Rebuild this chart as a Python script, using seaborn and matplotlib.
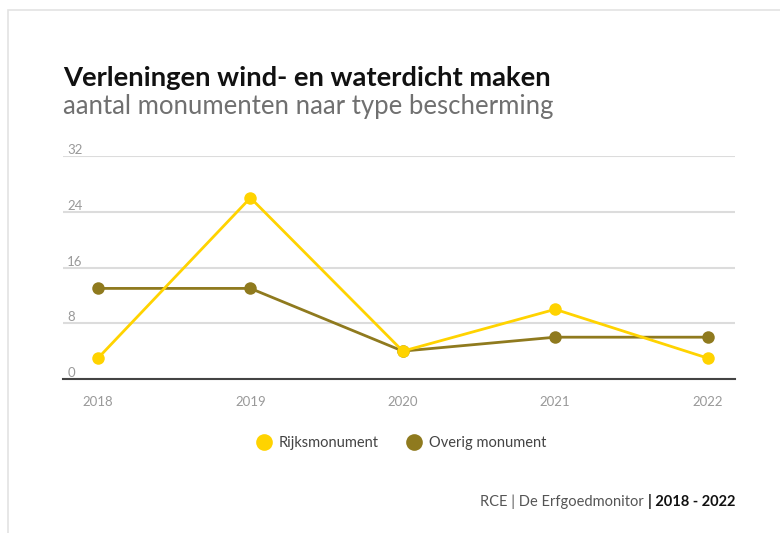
import pandas as pd
import numpy as np
import matplotlib.pyplot as plt
import seaborn as sns
from matplotlib.lines import Line2D
from matplotlib.patches import Rectangle

# Data
years = ["2018", "2019", "2020", "2021", "2022"]
rijksmonument = [3, 26, 4, 10, 3]
overig_monument = [13, 13, 4, 6, 6]
series_names = ["Rijksmonument", "Overig monument"]
colors = ["#FFD300", "#8F7A1E"]
y_ticks = [0, 8, 16, 24, 32]

df = pd.DataFrame({
    "idx": list(range(len(years))) * 2,
    "value": rijksmonument + overig_monument,
    "type": [series_names[0]] * len(years) + [series_names[1]] * len(years),
})

sns.set_style("white")
plt.rcParams["font.family"] = ["Lato", "DejaVu Sans"]

fig = plt.figure(figsize=(7.8, 5.33), dpi=100)
ax = fig.add_axes([63 / 780, 1 - 379 / 533, (735 - 63) / 780, (379 - 156) / 533])

# card border
fig.patches.append(Rectangle((8 / 780, -0.1), 1.2, 1 - 10 / 533 + 0.1, transform=fig.transFigure,
                             facecolor="none", edgecolor="#e3e3e3", linewidth=1.2))

sns.lineplot(data=df, x="idx", y="value", hue="type", hue_order=series_names,
             palette=colors, marker="o", markersize=9, markeredgewidth=0,
             linewidth=2, legend=False, ax=ax)
# yellow line on top
ax.lines[0].set_zorder(4)
ax.lines[1].set_zorder(3)

ax.set_xlim(-0.23, 4.18)
ax.set_ylim(0, 32)
ax.set_xticks(range(len(years)))
ax.set_xticklabels(years)
ax.set_yticks(y_ticks)
ax.set_yticklabels([str(t) for t in y_ticks])
ax.set_xlabel("")
ax.set_ylabel("")

ax.grid(axis="y", color="#dcdcdc", linewidth=1.5)
ax.grid(axis="x", visible=False)
for side in ["top", "right", "left"]:
    ax.spines[side].set_visible(False)
ax.spines["bottom"].set_color("#444444")
ax.spines["bottom"].set_linewidth(1.5)
ax.spines["bottom"].set_zorder(5)

ax.tick_params(axis="x", length=0, pad=12, labelsize=9.5, labelcolor="#999999")
ax.tick_params(axis="y", length=0, pad=-3, labelsize=9.5, labelcolor="#999999")
for lbl in ax.get_yticklabels():
    lbl.set_horizontalalignment("left")
    lbl.set_verticalalignment("bottom")

# Title and subtitle
fig.text(63 / 780, 1 - 86 / 533, "Verleningen wind- en waterdicht maken",
         fontsize=19.7, fontweight="bold", color="#111111", ha="left", va="baseline")
fig.text(63 / 780, 1 - 114 / 533, "aantal monumenten naar type bescherming",
         fontsize=18.5, fontweight="normal", color="#707070", ha="left", va="baseline")

# Legend
handles = [Line2D([], [], marker="o", linestyle="none", markersize=12,
                  markerfacecolor=c, markeredgewidth=0) for c in colors]
fig.legend(handles, series_names, loc="center", ncol=2, frameon=False,
           bbox_to_anchor=(398 / 780, 1 - 443 / 533), fontsize=10.5,
           handletextpad=0.05, columnspacing=1.4, labelcolor="#444444")

# Source
bold = fig.text(735 / 780, 1 - 506 / 533, "| 2018 - 2022", fontsize=10.5,
                fontweight="bold", color="#111111", ha="right", va="baseline")
ax.annotate("RCE | De Erfgoedmonitor ", xy=(0, 0), xycoords=bold,
            fontsize=10.5, color="#555555", ha="right", va="bottom",
            annotation_clip=False)

fig.savefig("out.png", dpi=100)
